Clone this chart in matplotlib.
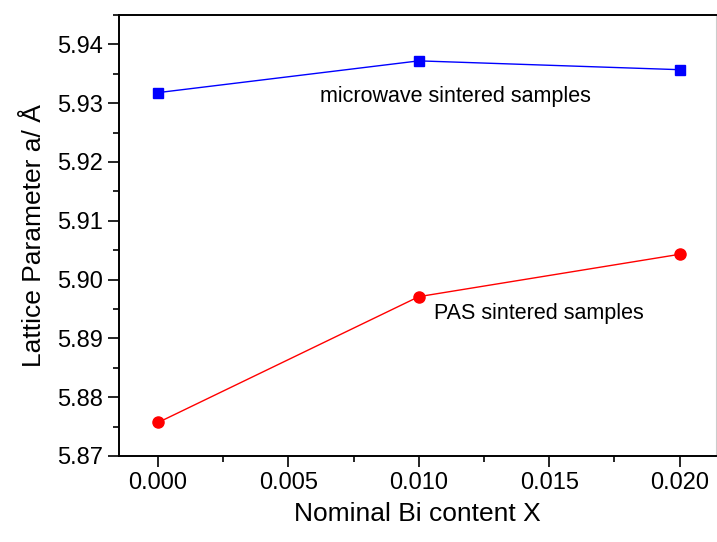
import numpy as np
import matplotlib.pyplot as plt
from matplotlib.ticker import MultipleLocator, FormatStrFormatter

plt.rcParams['font.family'] = ['Liberation Sans', 'DejaVu Sans']

bi_content = [0.000, 0.010, 0.020]
microwave = [5.9318, 5.9372, 5.9357]
pas = [5.8757, 5.8971, 5.9043]

fig = plt.figure(figsize=(7.17, 5.42), dpi=100)
ax = fig.add_axes([119/717, 1-456/542, (716-119)/717, (456-15)/542])

ax.plot(bi_content, microwave, color='blue', lw=1, marker='s', ms=7)
ax.plot(bi_content, pas, color='red', lw=1, marker='o', ms=8)

ax.text(0.0062, 5.9312, 'microwave sintered samples', fontsize=15.5, va='center')
ax.text(0.0106, 5.8943, 'PAS sintered samples', fontsize=15.5, va='center')

ax.set_xlim(-0.0015, 0.0214)
ax.set_ylim(5.87, 5.945)
ax.xaxis.set_major_locator(MultipleLocator(0.005))
ax.xaxis.set_minor_locator(MultipleLocator(0.0025))
ax.yaxis.set_major_locator(MultipleLocator(0.01))
ax.yaxis.set_minor_locator(MultipleLocator(0.005))
ax.xaxis.set_major_formatter(FormatStrFormatter('%.3f'))
ax.yaxis.set_major_formatter(FormatStrFormatter('%.2f'))
ax.tick_params(which='major', direction='out', length=8, width=1.2, labelsize=17)
ax.tick_params(which='minor', direction='out', length=4, width=1.2)
for s in ['left', 'bottom', 'top']:
    ax.spines[s].set_linewidth(1.4)
ax.spines['right'].set_color('#cccccc')

ax.set_xlabel('Nominal Bi content X', fontsize=19, labelpad=6)
ax.set_ylabel('Lattice Parameter a/ Å', fontsize=19, labelpad=8)

fig.savefig('out.png', dpi=100)
